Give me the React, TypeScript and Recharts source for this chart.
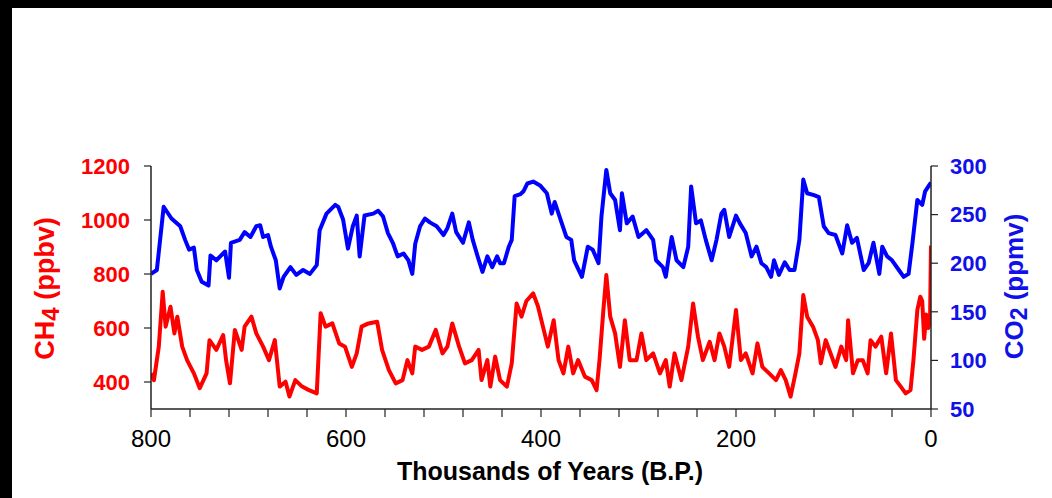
import React from 'react';
import { LineChart, Line, XAxis, YAxis, Label } from 'recharts';

// CO2 record (thousands of years B.P., ppmv)
const co2Ages = [800, 794, 787, 785, 779, 770, 765, 761, 756, 753, 748, 741, 739, 733, 724, 720, 718, 709, 704, 698, 692, 688, 685, 680, 677, 672, 668, 664, 657, 651, 644, 637, 630, 627, 620, 611, 608, 603, 598, 593, 589, 586, 581, 572, 567, 562, 557, 552, 547, 541, 536, 532, 529, 524, 519, 514, 507, 500, 496, 491, 487, 480, 474, 470, 465, 460, 455, 450, 445, 442, 438, 433, 430, 427, 421, 418, 414, 408, 401, 394, 389, 386, 379, 374, 369, 366, 358, 352, 347, 341, 338, 333, 329, 324, 319, 317, 312, 306, 300, 292, 285, 282, 275, 272, 266, 261, 254, 249, 246, 241, 236, 231, 225, 220, 215, 212, 207, 200, 196, 190, 184, 179, 174, 169, 164, 161, 156, 150, 145, 140, 135, 131, 127, 120, 115, 110, 105, 98, 91, 86, 81, 76, 69, 64, 59, 53, 50, 45, 40, 33, 28, 23, 19, 14, 9, 6, 2, 0];
const co2Values = [189, 193, 258, 255, 246, 238, 224, 214, 216, 193, 181, 177, 208, 203, 212, 185, 221, 224, 232, 227, 238, 239, 227, 229, 217, 203, 174, 186, 196, 188, 193, 189, 198, 234, 251, 260, 258, 245, 215, 238, 249, 207, 249, 251, 254, 248, 231, 221, 207, 210, 203, 189, 220, 238, 246, 242, 238, 229, 236, 251, 232, 221, 242, 224, 207, 191, 207, 196, 207, 200, 200, 217, 224, 269, 271, 274, 282, 284, 280, 272, 251, 263, 242, 227, 224, 203, 186, 217, 214, 200, 248, 296, 272, 265, 234, 272, 241, 248, 227, 234, 224, 203, 196, 186, 227, 203, 196, 217, 279, 241, 244, 224, 203, 224, 251, 255, 227, 249, 241, 231, 207, 217, 200, 196, 186, 203, 188, 201, 193, 193, 224, 286, 272, 270, 268, 238, 231, 229, 210, 239, 221, 226, 193, 200, 221, 189, 217, 207, 203, 193, 186, 189, 221, 265, 260, 274, 280, 283];

// CH4 record (thousands of years B.P., ppbv)
const ch4Ages = [800, 797, 792, 788, 785, 780, 776, 773, 768, 763, 756, 750, 743, 740, 733, 726, 723, 719, 714, 707, 704, 697, 692, 685, 679, 673, 668, 662, 658, 652, 645, 638, 630, 626, 621, 614, 607, 601, 594, 589, 584, 577, 568, 563, 556, 549, 542, 537, 532, 529, 522, 515, 508, 501, 496, 491, 484, 478, 471, 464, 461, 455, 452, 447, 442, 435, 430, 425, 420, 415, 408, 403, 398, 393, 387, 382, 377, 372, 367, 362, 355, 348, 343, 340, 336, 333, 329, 324, 319, 314, 309, 302, 297, 292, 285, 278, 272, 268, 263, 256, 249, 244, 239, 234, 227, 222, 217, 212, 207, 200, 195, 190, 183, 178, 173, 166, 159, 154, 149, 144, 139, 135, 131, 127, 121, 116, 113, 108, 103, 98, 92, 87, 85, 80, 75, 70, 65, 62, 57, 51, 46, 41, 36, 31, 26, 21, 18, 14, 11, 9, 7, 5, 3, 1, 0];
const ch4Values = [432, 407, 531, 734, 605, 679, 580, 642, 531, 481, 432, 377, 432, 555, 519, 574, 481, 395, 593, 519, 605, 642, 580, 531, 481, 555, 383, 401, 346, 407, 383, 370, 358, 655, 605, 617, 543, 531, 456, 506, 605, 617, 623, 519, 444, 395, 407, 481, 432, 531, 519, 531, 593, 506, 531, 617, 531, 469, 481, 519, 407, 481, 383, 494, 407, 383, 469, 691, 642, 700, 728, 679, 605, 531, 629, 481, 432, 531, 432, 481, 420, 407, 370, 481, 667, 796, 642, 580, 456, 629, 481, 481, 580, 481, 506, 432, 481, 383, 506, 407, 531, 691, 568, 481, 549, 481, 580, 531, 456, 667, 481, 506, 432, 543, 456, 432, 407, 444, 407, 346, 432, 506, 722, 642, 605, 555, 469, 555, 506, 456, 531, 481, 629, 432, 481, 481, 432, 555, 531, 568, 432, 580, 407, 383, 358, 370, 481, 667, 716, 700, 560, 650, 600, 620, 905];

// Axis ticks
const xTicks = [800, 760, 720, 680, 640, 600, 560, 520, 480, 440, 400, 360, 320, 280, 240, 200, 160, 120, 80, 40, 0];
const xLabelTicks = [800, 600, 400, 200, 0];
const ch4Ticks = [400, 600, 800, 1000, 1200];
const co2Ticks = [50, 100, 150, 200, 250, 300];

const co2Data = co2Ages.map((age, i) => ({ age, co2: co2Values[i] }));
const ch4Data = ch4Ages.map((age, i) => ({ age, ch4: ch4Values[i] }));

const RED = '#ff0000';
const BLUE = '#0000ff';
const AXIS = '#222222';
const FONT = "'Liberation Sans', Arial, sans-serif";

const Ch4Title = (props: any) => {
  const vb = props.viewBox || { x: 91, y: 166, width: 60, height: 243 };
  const x = vb.x - 37;
  const y = vb.y + vb.height / 2 + 1;
  return (
    <text x={x} y={y} transform={`rotate(-90, ${x}, ${y})`} textAnchor="middle" fill={RED}
      fontFamily={FONT} fontWeight="bold" fontSize={27}>
      <tspan>CH</tspan>
      <tspan dy={5} fontSize={24}>4</tspan>
      <tspan dy={-5}> (ppbv)</tspan>
    </text>
  );
};

const Co2Title = (props: any) => {
  const vb = props.viewBox || { x: 931, y: 166, width: 60, height: 243 };
  const x = vb.x + 92;
  const y = vb.y + vb.height / 2 - 1;
  return (
    <text x={x} y={y} transform={`rotate(-90, ${x}, ${y})`} textAnchor="middle" fill="#1010e8"
      fontFamily={FONT} fontWeight="bold" fontSize={26}>
      <tspan>CO</tspan>
      <tspan dy={4} fontSize={23}>2</tspan>
      <tspan dy={-4}> (ppmv)</tspan>
    </text>
  );
};

const XTitle = (props: any) => {
  const vb = props.viewBox || { x: 151, y: 409, width: 780, height: 30 };
  const x = vb.x + vb.width / 2 + 9;
  const y = vb.y + 71;
  return (
    <text x={x} y={y} textAnchor="middle" fill="#000" fontFamily={FONT} fontWeight="bold" fontSize={25}>
      Thousands of Years (B.P.)
    </text>
  );
};

export default function App() {
  return (
    <div style={{ position: 'absolute', left: 0, top: 0, width: 1052, height: 498, background: '#000' }}>
      <div style={{ position: 'absolute', left: 12, top: 8, right: 0, bottom: 0, background: '#fff' }} />
      <div style={{ position: 'absolute', left: 0, top: 0 }}>
        <LineChart width={1052} height={498} margin={{ top: 166, right: 61, bottom: 59, left: 91 }}>
          <XAxis
            type="number"
            dataKey="age"
            domain={[0, 800]}
            reversed
            allowDataOverflow
            ticks={xTicks}
            interval={0}
            tickFormatter={(v: number) => (xLabelTicks.includes(v) ? String(v) : '')}
            tickSize={8}
            tickMargin={13}
            height={30}
            axisLine={{ stroke: AXIS, strokeWidth: 1.5 }}
            tickLine={{ stroke: AXIS, strokeWidth: 1.2 }}
            tick={{ fill: '#000', fontSize: 24, fontFamily: FONT }}
          >
            <Label content={XTitle} />
          </XAxis>
          <YAxis
            yAxisId="ch4"
            orientation="left"
            type="number"
            domain={[300, 1200]}
            allowDataOverflow
            ticks={ch4Ticks}
            interval={0}
            width={60}
            tickSize={7}
            tickMargin={14}
            axisLine={{ stroke: AXIS, strokeWidth: 1.5 }}
            tickLine={{ stroke: AXIS, strokeWidth: 1.2 }}
            tick={{ fill: RED, fontSize: 22, fontWeight: 'bold', fontFamily: FONT }}
          >
            <Label content={Ch4Title} />
          </YAxis>
          <YAxis
            yAxisId="co2"
            orientation="right"
            type="number"
            domain={[50, 300]}
            allowDataOverflow
            ticks={co2Ticks}
            interval={0}
            width={60}
            tickSize={7}
            tickMargin={12}
            axisLine={{ stroke: AXIS, strokeWidth: 1.5 }}
            tickLine={{ stroke: AXIS, strokeWidth: 1.2 }}
            tick={{ fill: '#1010e8', fontSize: 22, fontWeight: 'bold', fontFamily: FONT }}
          >
            <Label content={Co2Title} />
          </YAxis>
          <Line
            data={co2Data}
            yAxisId="co2"
            dataKey="co2"
            type="linear"
            stroke={BLUE}
            strokeWidth={4}
            strokeLinejoin="round"
            dot={false}
            isAnimationActive={false}
          />
          <Line
            data={ch4Data}
            yAxisId="ch4"
            dataKey="ch4"
            type="linear"
            stroke={RED}
            strokeWidth={4}
            strokeLinejoin="round"
            dot={false}
            isAnimationActive={false}
          />
        </LineChart>
      </div>
    </div>
  );
}
